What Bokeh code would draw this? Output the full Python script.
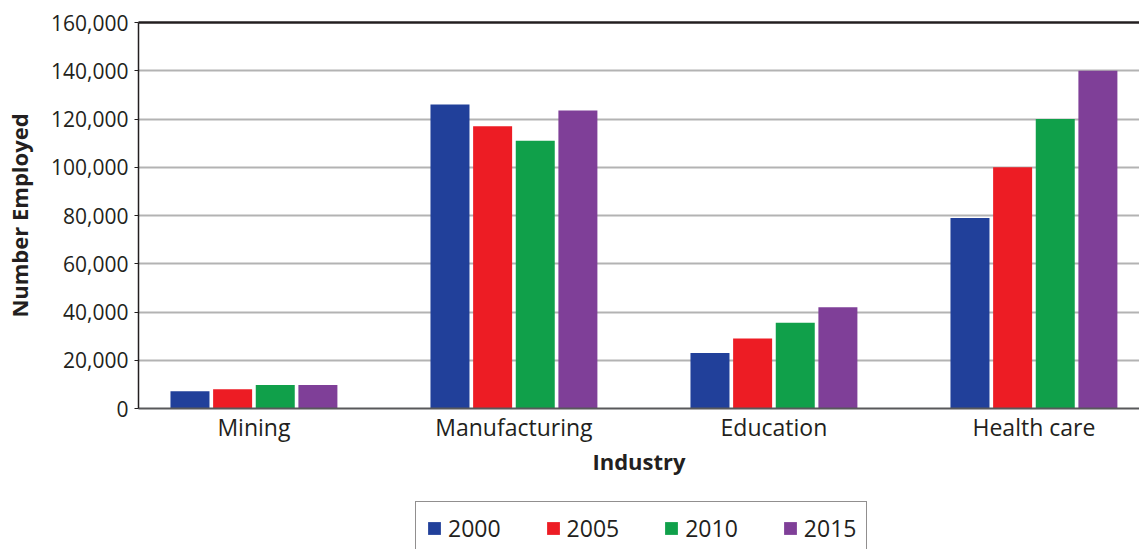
from bokeh.plotting import figure
from bokeh.layouts import column
from bokeh.models import (ColumnDataSource, FixedTicker, NumeralTickFormatter,
                          Legend, LegendItem, LinearAxis, Range1d)
from bokeh.transform import dodge
from bokeh.embed import file_html
from bokeh.resources import INLINE

categories = ["Mining", "Manufacturing", "Education", "Health care"]
years = ["2000", "2005", "2010", "2015"]
v2000 = [7200, 126000, 23000, 79000]
v2005 = [8000, 117000, 29000, 100000]
v2010 = [9700, 111000, 35500, 120000]
v2015 = [9700, 123500, 42000, 140000]
colors = ["#21409A", "#ED1C24", "#10A04A", "#7F3F98"]
y_ticks = [0, 20000, 40000, 60000, 80000, 100000, 120000, 140000, 160000]

series = [v2000, v2005, v2010, v2015]
data = dict(x=list(range(len(categories))))
for yr, vals in zip(years, series):
    data["y" + yr] = vals
src = ColumnDataSource(data)

TXT = "#231f20"
FONT = "Open Sans"

p = figure(width=1139, height=488,
           x_range=Range1d(-0.444, 3.406), y_range=Range1d(0, 160000),
           output_backend="svg", toolbar_location=None,
           min_border_left=138, min_border_right=0, min_border_top=22,
           min_border_bottom=80, background_fill_color="white",
           border_fill_color="white", outline_line_color=None)

offsets = [-0.246, -0.082, 0.082, 0.246]
for yr, off, c in zip(years, offsets, colors):
    p.vbar(x=dodge("x", off, range=p.x_range), top="y" + yr, width=0.15,
           source=src, fill_color=c, line_color=None)

# grid
p.xgrid.grid_line_color = None
p.ygrid.ticker = FixedTicker(ticks=y_ticks)
p.ygrid.grid_line_color = "#b3b3b3"
p.ygrid.grid_line_width = 1.8

# y axis
ya = p.yaxis[0]
ya.ticker = FixedTicker(ticks=y_ticks)
ya.formatter = NumeralTickFormatter(format="0,0")
ya.axis_line_color = TXT
ya.axis_line_width = 1.5
ya.major_tick_out = 4
ya.major_tick_in = 0
ya.major_tick_line_color = TXT
ya.minor_tick_line_color = None
ya.major_label_text_font = FONT
ya.major_label_text_font_size = "21px"
ya.major_label_text_color = TXT
ya.major_label_standoff = 6
ya.axis_label = "Number Employed"
ya.axis_label_text_font = FONT
ya.axis_label_text_font_style = "bold"
ya.axis_label_text_font_size = "22px"
ya.axis_label_text_color = TXT
ya.axis_label_standoff = 14

# x axis
xa = p.xaxis[0]
xa.ticker = FixedTicker(ticks=list(range(len(categories))))
xa.major_label_overrides = {i: c for i, c in enumerate(categories)}
xa.axis_line_color = "#58595b"
xa.axis_line_width = 2
xa.major_tick_line_color = None
xa.minor_tick_line_color = None
xa.major_label_text_font = FONT
xa.major_label_text_font_size = "23px"
xa.major_label_text_color = TXT
xa.major_label_standoff = -4
xa.axis_label = "Industry"
xa.axis_label_text_font = FONT
xa.axis_label_text_font_style = "bold"
xa.axis_label_text_font_size = "22px"
xa.axis_label_text_color = TXT
xa.axis_label_standoff = 0

# top border line
top = LinearAxis(ticker=FixedTicker(ticks=[]), axis_line_color=TXT,
                 axis_line_width=2.5, major_tick_line_color=None,
                 minor_tick_line_color=None, major_label_text_font_size="0px")
p.add_layout(top, "above")

# legend strip (its own figure; the box is cut at the bottom like the reference)
# proxy bars have zero width and lie far outside its y range, so only the legend shows
lg = figure(width=1139, height=61, x_range=Range1d(-0.444, 3.406),
            y_range=Range1d(1e9, 2e9), output_backend="svg", toolbar_location=None,
            x_axis_type=None, y_axis_type=None,
            min_border_left=0, min_border_right=0, min_border_top=0,
            min_border_bottom=0, outline_line_color=None,
            background_fill_color="white", border_fill_color="white")
lg.xgrid.grid_line_color = None
lg.ygrid.grid_line_color = None
items = []
for yr, off, c in zip(years, offsets, colors):
    r = lg.vbar(x=dodge("x", off, range=lg.x_range), top="y" + yr, width=0,
                source=src, fill_color=c, line_color=None)
    items.append(LegendItem(label=yr, renderers=[r]))

legend = Legend(items=items, orientation="horizontal", location=(277, -6),
                glyph_width=16, glyph_height=16, label_standoff=6, spacing=44,
                padding=10, margin=0, border_line_color=TXT, border_line_width=1.5,
                label_text_font=FONT, label_text_font_size="23px",
                label_text_color=TXT, background_fill_color="white",
                background_fill_alpha=1.0)
lg.add_layout(legend, "center")

layout = column(p, lg, spacing=0)
open("out.html", "w").write(file_html(layout, INLINE))
